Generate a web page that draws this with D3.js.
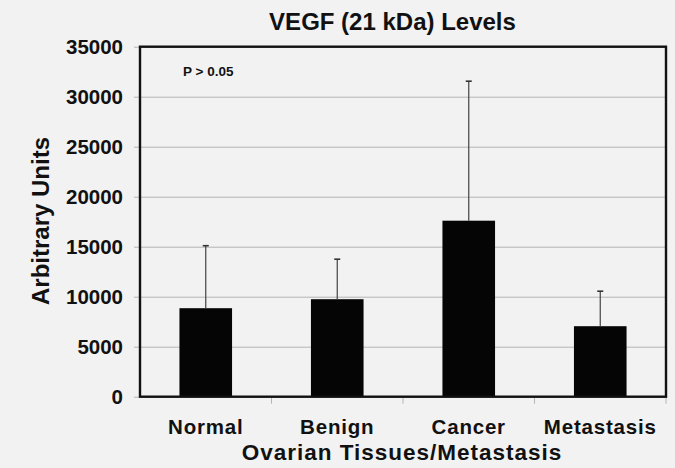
<!DOCTYPE html>
<html lang="en">
<head>
<meta charset="utf-8">
<title>VEGF (21 kDa) Levels</title>
<script src="https://cdn.jsdelivr.net/npm/d3@7/dist/d3.min.js"></script>
<style>
  body { margin: 0; background: #f2f2f2; }
  svg text { font-family: "Liberation Sans", Arial, sans-serif; fill: #111; }
</style>
</head>
<body>
<script>
// values
let categories = ["Normal", "Benign", "Cancer", "Metastasis"];
let means = [8850, 9750, 17600, 7050];
let sds = [6250, 4000, 13950, 3500];
let yTicks = [0, 5000, 10000, 15000, 20000, 25000, 30000, 35000];

let w = 675;
let h = 468;
let plotLeft = 140, plotRight = 666, plotTop = 46.7, plotBottom = 396.7;

let svg = d3.select("body")
  .append("svg")
  .attr("width", w)
  .attr("height", h);

svg.append("rect")
  .attr("width", w)
  .attr("height", h)
  .attr("fill", "#f2f2f2");

let xScale = d3.scaleBand()
  .domain(categories)
  .range([plotLeft, plotRight])
  .paddingInner(0.6)
  .paddingOuter(0.3);

let yScale = d3.scaleLinear()
  .domain([0, 35000])
  .range([plotBottom, plotTop]);

// y axis with gridlines running across the plot
let yAxis = d3.axisLeft(yScale)
  .tickValues(yTicks)
  .tickSize(-(plotRight - plotLeft + 6))
  .tickPadding(11)
  .tickFormat(d3.format("d"));

let gy = svg.append("g")
  .attr("transform", "translate(" + (plotLeft - 6) + ",0)")
  .call(yAxis);
gy.select(".domain").remove();
gy.selectAll("line")
  .attr("stroke", "#b4b4b4")
  .attr("stroke-width", 1);
gy.selectAll("text")
  .attr("font-size", "20.5px")
  .attr("font-weight", "bold")
  .attr("fill", "#111");

// small ticks between categories under the x axis
let step = xScale.step();
let bounds = categories.map((c) => xScale(c) + xScale.bandwidth() + (step - xScale.bandwidth()) / 2);
svg.selectAll(".xtick")
  .data(bounds)
  .enter()
  .append("line")
  .attr("class", "xtick")
  .attr("x1", (d) => d)
  .attr("x2", (d) => d)
  .attr("y1", plotBottom)
  .attr("y2", plotBottom + 7)
  .attr("stroke", "#b4b4b4");

// bars
svg.selectAll(".bar")
  .data(means)
  .enter()
  .append("rect")
  .attr("class", "bar")
  .attr("x", (d, i) => xScale(categories[i]))
  .attr("y", (d) => yScale(d))
  .attr("width", xScale.bandwidth())
  .attr("height", (d) => plotBottom - yScale(d))
  .attr("fill", "#050505");

// error bars (upper only)
let cx = (i) => xScale(categories[i]) + xScale.bandwidth() / 2;
svg.selectAll(".err")
  .data(means)
  .enter()
  .append("line")
  .attr("class", "err")
  .attr("x1", (d, i) => cx(i))
  .attr("x2", (d, i) => cx(i))
  .attr("y1", (d) => yScale(d))
  .attr("y2", (d, i) => yScale(d + sds[i]))
  .attr("stroke", "#444")
  .attr("stroke-width", 1.2);

svg.selectAll(".cap")
  .data(means)
  .enter()
  .append("line")
  .attr("class", "cap")
  .attr("x1", (d, i) => cx(i) - 3)
  .attr("x2", (d, i) => cx(i) + 3)
  .attr("y1", (d, i) => yScale(d + sds[i]))
  .attr("y2", (d, i) => yScale(d + sds[i]))
  .attr("stroke", "#333")
  .attr("stroke-width", 1.6);

// frame
svg.append("rect")
  .attr("x", plotLeft)
  .attr("y", plotTop)
  .attr("width", plotRight - plotLeft)
  .attr("height", plotBottom - plotTop)
  .attr("fill", "none")
  .attr("stroke", "#111")
  .attr("stroke-width", 2.4);

// category labels
svg.selectAll(".xlabel")
  .data(categories)
  .enter()
  .append("text")
  .attr("class", "xlabel")
  .attr("x", (d) => xScale(d) + xScale.bandwidth() / 2)
  .attr("y", 434)
  .attr("text-anchor", "middle")
  .attr("font-size", "20.5px")
  .attr("letter-spacing", "0.8px")
  .attr("font-weight", "bold")
  .text((d) => d);

svg.append("text")
  .attr("x", 402)
  .attr("y", 460)
  .attr("text-anchor", "middle")
  .attr("font-size", "22.5px")
  .attr("letter-spacing", "1px")
  .attr("font-weight", "bold")
  .text("Ovarian Tissues/Metastasis");

svg.append("text")
  .attr("transform", "translate(49,221) rotate(-90)")
  .attr("text-anchor", "middle")
  .attr("font-size", "24px")
  .attr("font-weight", "bold")
  .text("Arbitrary Units");

svg.append("text")
  .attr("x", 392.5)
  .attr("y", 30)
  .attr("text-anchor", "middle")
  .attr("font-size", "24px")
  .attr("font-weight", "bold")
  .text("VEGF (21 kDa) Levels");

svg.append("text")
  .attr("x", 183)
  .attr("y", 76)
  .attr("font-size", "13.5px")
  .attr("font-weight", "bold")
  .text("P > 0.05");
</script>
</body>
</html>
